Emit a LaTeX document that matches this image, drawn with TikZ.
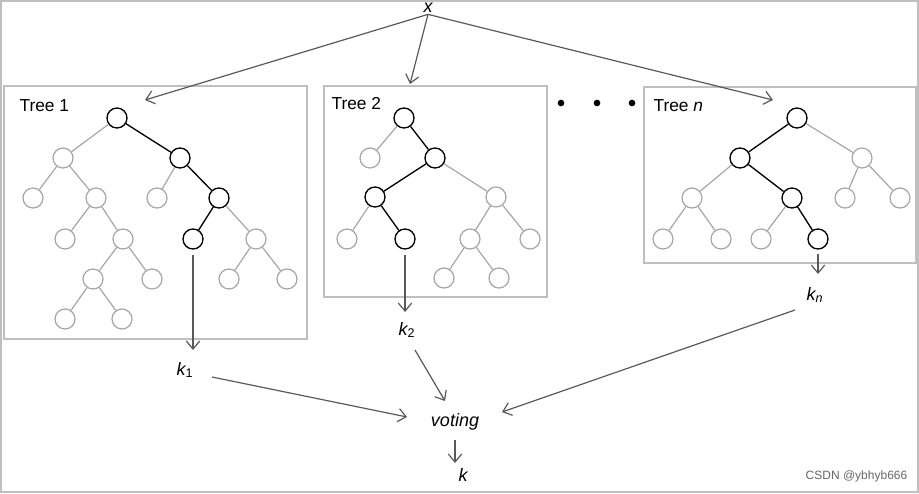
\documentclass[tikz,border=0pt]{standalone}
\usepackage{fontspec}
\setmainfont{Liberation Sans}
\usetikzlibrary{arrows.meta}
\begin{document}
\begin{tikzpicture}[x=0.75pt,y=-0.75pt,
  n/.style={circle,draw=black!35,line width=0.9pt,minimum size=15pt,inner sep=0pt},
  b/.style={circle,draw=black,line width=1pt,minimum size=15pt,inner sep=0pt},
  ge/.style={draw=black!35,line width=0.9pt},
  be/.style={draw=black,line width=1pt},
  box/.style={draw=black!25,line width=1pt},
  arr/.style={draw=black!65,line width=0.9pt,-{Straight Barb[length=6pt,width=10pt]}},
  lab/.style={font=\fontsize{13}{15}\selectfont,inner sep=1pt},
  kl/.style={font=\fontsize{13.5}{15}\selectfont\itshape,inner sep=1pt}]
\useasboundingbox (0,0) rectangle (919,493);
\draw[black!25,line width=0.8pt] (1,1) rectangle (918,492);
% boxes
\draw[box] (4,86) rectangle (307,339);
\draw[box] (324,86) rectangle (547,297);
\draw[box] (644,87) rectangle (916,263);
\node[lab,anchor=west] (t1) at (18,106) {Tree 1};
\node[lab,anchor=west] (t2) at (330,104) {Tree 2};
\node[lab,anchor=west] (tn) at (652,106) {Tree \textit{n}};
\foreach \p/\xx in {d1/561,d2/597,d3/632} \node[circle,fill=black,inner sep=0pt,minimum size=5pt] (\p) at (\xx,103) {};
% tree 1
\node[b] (A) at (117,118) {};
\node[n] (B) at (63,158) {};
\node[b] (C) at (180,158) {};
\node[n] (D) at (33,198) {};
\node[n] (E) at (96,198) {};
\node[n] (F) at (157,198) {};
\node[b] (G) at (219,198) {};
\node[n] (H) at (65,239) {};
\node[n] (I) at (123,239) {};
\node[b] (J) at (193,239) {};
\node[n] (K) at (256,239) {};
\node[n] (L) at (93,279) {};
\node[n] (M) at (152,279) {};
\node[n] (N) at (229,279) {};
\node[n] (O) at (287,279) {};
\node[n] (P) at (65,319) {};
\node[n] (Q) at (122,319) {};
\foreach \u/\v in {A/B,B/D,B/E,C/F,E/H,E/I,G/K,I/L,I/M,K/N,K/O,L/P,L/Q} \draw[ge] (\u)--(\v);
\foreach \u/\v in {A/C,C/G,G/J} \draw[be] (\u)--(\v);
% tree 2
\node[b] (R) at (404,118) {};
\node[n] (S) at (370,158) {};
\node[b] (T) at (435,158) {};
\node[b] (U) at (375,197) {};
\node[n] (V) at (496,197) {};
\node[n] (W) at (347,239) {};
\node[b] (X) at (405,239) {};
\node[n] (Y) at (470,239) {};
\node[n] (Z) at (530,239) {};
\node[n] (Ya) at (444,278) {};
\node[n] (Yb) at (499,278) {};
\foreach \u/\v in {R/S,T/V,U/W,V/Y,V/Z,Y/Ya,Y/Yb} \draw[ge] (\u)--(\v);
\foreach \u/\v in {R/T,T/U,U/X} \draw[be] (\u)--(\v);
% tree n
\node[b] (r) at (797,118) {};
\node[b] (s) at (740,158) {};
\node[n] (t) at (862,158) {};
\node[n] (u) at (692,198) {};
\node[b] (v) at (792,198) {};
\node[n] (w) at (845,198) {};
\node[n] (x2) at (900,198) {};
\node[n] (y1) at (663,239) {};
\node[n] (y2) at (721,239) {};
\node[n] (y3) at (761,239) {};
\node[b] (y4) at (818,239) {};
\foreach \u/\v in {r/t,s/u,t/w,t/x2,u/y1,u/y2,v/y3} \draw[ge] (\u)--(\v);
\foreach \u/\v in {r/s,s/v,v/y4} \draw[be] (\u)--(\v);
% labels
\node[kl] (x) at (428,8) {x};
\node[kl] (k1) at (185,370) {k\textsubscript{\upshape 1}};
\node[kl] (k2) at (407,330) {k\textsubscript{\upshape 2}};
\node[kl] (kn) at (815,295) {k\textsubscript{n}};
\node[kl] (vot) at (455,422) {voting};
\node[kl] (k) at (463,475) {k};
\coordinate (a1) at (145,100);
\coordinate (a2) at (410,84);
\coordinate (a3) at (773,100);
\draw[arr] (x.south) -- (a1);
\draw[arr] (x.south) -- (a2);
\draw[arr] (x.south) -- (a3);
\draw[arr] (J.south)++(0,5) -- (193,350);
\draw[arr] (X.south)++(0,5) -- (405,312);
\draw[arr] (y4.south)++(0,4) -- (818,274);
\draw[arr] (212,377) -- (407,417);
\draw[arr] (415,350) -- (445,401);
\draw[arr] (795,310) -- (502,412);
\draw[arr] (455,440) -- (455,463);
\node[font=\fontsize{9}{11}\selectfont,text=black!60,anchor=east] (wm) at (912,476) {CSDN @ybhyb666};
\end{tikzpicture}
\end{document}
